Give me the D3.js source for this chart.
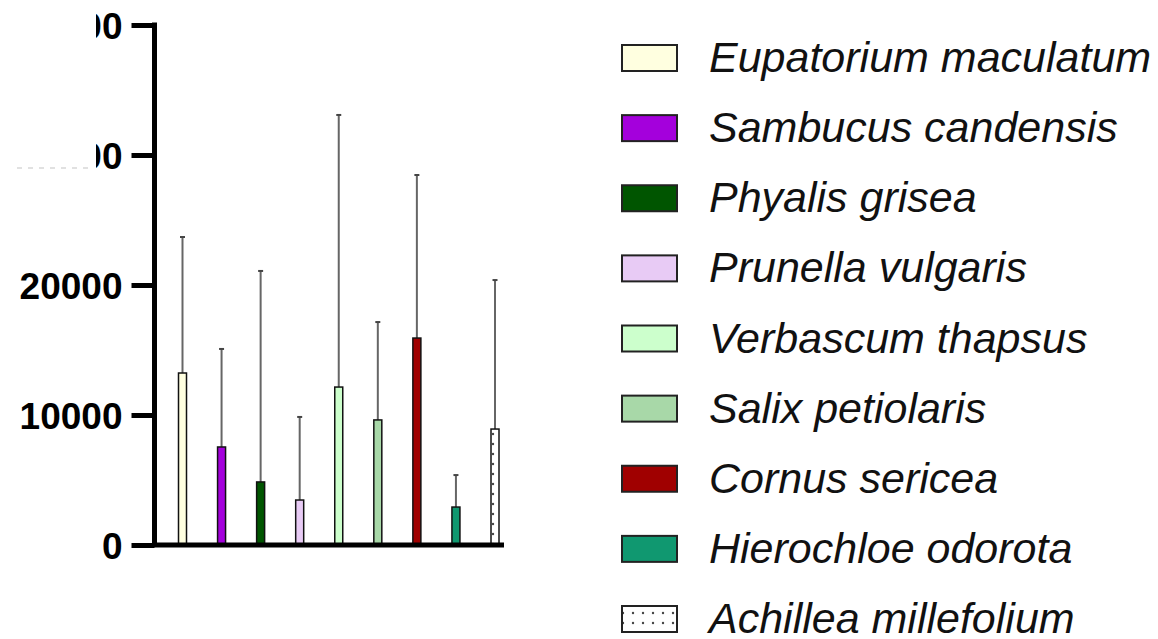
<!DOCTYPE html>
<html>
<head>
<meta charset="utf-8">
<script src="https://cdn.jsdelivr.net/npm/d3@7"></script>
<style>
  body { margin: 0; background: #fff; }
  svg { display: block; }
  .ylab text { font-family: "Liberation Sans", Arial, sans-serif; font-weight: bold; font-size: 37px; fill: #000; }
  .leg text { font-family: "Liberation Sans", Arial, sans-serif; font-style: italic; font-size: 43px; fill: #111; }
</style>
</head>
<body>
<div id="chart"></div>
<script>
var species = ["Eupatorium maculatum", "Sambucus candensis", "Phyalis grisea", "Prunella vulgaris",
    "Verbascum thapsus", "Salix petiolaris", "Cornus sericea", "Hierochloe odorota", "Achillea millefolium"];
var means = [13230, 7540, 4850, 3460, 12150, 9620, 15920, 2920, 8920];
var sds = [10460, 7540, 16230, 6390, 20930, 7530, 12540, 2460, 11460];
var colors = ["#FFFFE0", "#A400DC", "#005500", "#E8CBF5", "#CCFFCC", "#A8D8A8", "#A00000", "#109870", "url(#dots)"];
var yTicks = [0, 10000, 20000, 30000, 40000];

var svg = d3.select("#chart").append("svg").attr("width", 1158).attr("height", 639);

// dotted fill for the last species
var pat = svg.append("defs").append("pattern")
        .attr("id", "dots")
        .attr("patternUnits", "userSpaceOnUse")
        .attr("width", 20).attr("height", 20);
pat.append("rect").attr("width", 20).attr("height", 20).attr("fill", "#fff");
pat.append("circle").attr("cx", 3).attr("cy", 4).attr("r", 1.2).attr("fill", "#444");
pat.append("circle").attr("cx", 13).attr("cy", 14).attr("r", 1.2).attr("fill", "#444");
pat.append("circle").attr("cx", 13).attr("cy", 4).attr("r", 1.2).attr("fill", "#444");
pat.append("circle").attr("cx", 3).attr("cy", 14).attr("r", 1.2).attr("fill", "#444");

var x = d3.scalePoint().domain(species).range([182.5, 495]);
var y = d3.scaleLinear().domain([0, 40000]).range([545, 25]);
var barW = 8;

// error bars (upper only)
var eb = svg.append("g");
eb.selectAll("line.err")
        .data(species)
        .enter()
        .append("line")
        .attr("x1", function (d) { return x(d); })
        .attr("x2", function (d) { return x(d); })
        .attr("y1", function (d, i) { return y(means[i]); })
        .attr("y2", function (d, i) { return y(means[i] + sds[i]); })
        .attr("stroke", "#666")
        .attr("stroke-width", 2);
eb.selectAll("line.cap")
        .data(species)
        .enter()
        .append("line")
        .attr("x1", function (d) { return x(d) - 2.5; })
        .attr("x2", function (d) { return x(d) + 2.5; })
        .attr("y1", function (d, i) { return y(means[i] + sds[i]); })
        .attr("y2", function (d, i) { return y(means[i] + sds[i]); })
        .attr("stroke", "#444")
        .attr("stroke-width", 2);

// bars
svg.append("g").selectAll("rect")
        .data(species)
        .enter()
        .append("rect")
        .attr("x", function (d) { return x(d) - barW / 2; })
        .attr("y", function (d, i) { return y(means[i]); })
        .attr("width", barW)
        .attr("height", function (d, i) { return y(0) - y(means[i]); })
        .attr("fill", function (d, i) { return colors[i]; })
        .attr("stroke", "#111")
        .attr("stroke-width", 1.5);

// y axis
var ya = svg.append("g")
        .attr("class", "ylab")
        .attr("transform", "translate(154.5,0)")
        .call(d3.axisLeft(y).tickValues(yTicks).tickFormat(d3.format("d")).tickSize(23).tickSizeOuter(0).tickPadding(9));
ya.selectAll("line").attr("stroke", "#000").attr("stroke-width", 5);
ya.select(".domain").attr("stroke", "#000").attr("stroke-width", 5).attr("d", "M0," + (y(40000) - 2.5) + "V" + y(0));
ya.selectAll("text").attr("dy", "0.36em");

// x axis baseline
svg.append("line")
        .attr("x1", 152).attr("x2", 504)
        .attr("y1", y(0)).attr("y2", y(0))
        .attr("stroke", "#000")
        .attr("stroke-width", 5);

// top-left of the image is blanked out in the original
svg.append("rect").attr("x", 0).attr("y", 0).attr("width", 96).attr("height", 176).attr("fill", "#fff");
svg.append("line")
        .attr("x1", 17).attr("x2", 94)
        .attr("y1", 168).attr("y2", 168)
        .attr("stroke", "#d8d8d8")
        .attr("stroke-width", 1.5)
        .attr("stroke-dasharray", "5,6");

// legend
var leg = svg.append("g").attr("class", "leg");
var rowY = d3.scalePoint().domain(species).range([58, 619]);
var item = leg.selectAll("g")
        .data(species)
        .enter()
        .append("g")
        .attr("transform", function (d) { return "translate(0," + rowY(d) + ")"; });
item.append("rect")
        .attr("x", 622).attr("y", -13)
        .attr("width", 55).attr("height", 26)
        .attr("fill", function (d, i) { return colors[i]; })
        .attr("stroke", "#222")
        .attr("stroke-width", 2);
item.append("text")
        .attr("x", 709)
        .attr("y", 14)
        .text(function (d) { return d; });
</script>
</body>
</html>
